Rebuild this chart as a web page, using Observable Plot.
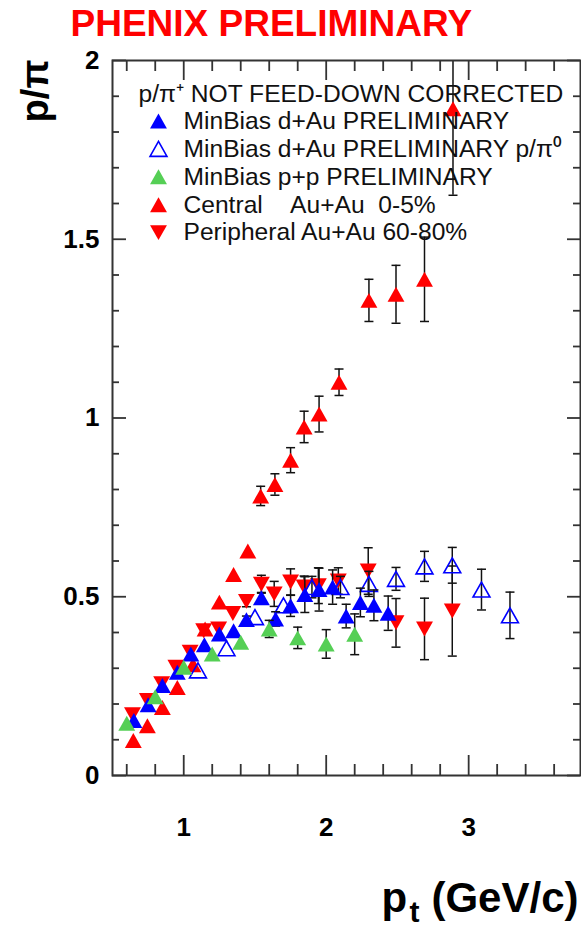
<!DOCTYPE html>
<html><head><meta charset="utf-8">
<script src="https://cdn.jsdelivr.net/npm/d3@7"></script>
<script src="https://cdn.jsdelivr.net/npm/@observablehq/plot@0.6"></script>
<style>html,body{margin:0;padding:0;background:#fff}#chart svg{display:block}</style>
</head><body><div id="chart"></div>
<script>
// ---------------- data ----------------
// Central Au+Au 0-5% (red, up triangles)
const ptCentral = [0.646,0.745,0.85,0.955,1.065,1.15,1.25,1.35,1.45,1.54,1.64,1.75,1.845,1.95,2.09,2.30,2.49,2.69,2.89];
const rCentral  = [0.098,0.139,0.19,0.246,0.31,0.41,0.485,0.562,0.628,0.782,0.814,0.882,0.975,1.011,1.10,1.329,1.346,1.388,1.865];
const eCentral  = [0,0,0,0,0,0,0,0,0,0.027,0.03,0.035,0.044,0.05,0.037,0.059,0.081,0.118,0.242];
// Peripheral Au+Au 60-80% (red, down triangles)
const ptPeriph = [0.64,0.745,0.845,0.945,1.045,1.14,1.245,1.345,1.44,1.545,1.635,1.75,1.845,1.945,2.085,2.295,2.49,2.69,2.885];
const rPeriph  = [0.17,0.21,0.257,0.303,0.345,0.405,0.41,0.453,0.487,0.535,0.508,0.541,0.527,0.531,0.544,0.572,0.427,0.41,0.46];
const ePeriph  = [0,0,0,0,0,0,0,0,0.015,0.025,0.035,0.037,0.031,0.05,0.037,0.065,0.068,0.086,0.126];
// MinBias d+Au p/pi+ (blue, filled up triangles)
const ptDAu = [0.65,0.75,0.85,0.955,1.05,1.145,1.25,1.35,1.44,1.545,1.645,1.75,1.85,1.95,2.045,2.14,2.24,2.335,2.435];
const rDAu  = [0.154,0.198,0.252,0.289,0.34,0.366,0.396,0.405,0.436,0.497,0.438,0.475,0.506,0.52,0.527,0.446,0.484,0.476,0.454];
const eDAu  = [0,0,0,0,0,0,0,0,0.01,0.015,0.02,0.03,0.05,0.06,0.048,0.033,0.04,0.043,0.048];
// MinBias d+Au p/pi0 (blue, open up triangles)
const ptDAu0 = [1.10,1.30,1.50,1.70,1.90,2.10,2.30,2.49,2.69,2.885,3.09,3.29];
const rDAu0  = [0.294,0.356,0.443,0.476,0.527,0.527,0.536,0.55,0.585,0.588,0.52,0.448];
const eDAu0  = [0,0,0,0,0.03,0.03,0.035,0.032,0.042,0.05,0.057,0.065];
// MinBias p+p (green, filled up triangles)
const ptPP = [0.6,0.8,1.0,1.2,1.4,1.6,1.8,2.0,2.2];
const rPP  = [0.146,0.22,0.303,0.34,0.373,0.41,0.385,0.368,0.395];
const ePP  = [0,0,0,0,0,0.024,0.03,0.04,0.057];

// axis ticks / labels
const xDomain = [0.5, 3.785];
const yDomain = [0, 2];
const xMajor = [1, 2, 3];
const xMinor = [0.6,0.8,1.2,1.4,1.6,1.8,2.2,2.4,2.6,2.8,3.2,3.4,3.6];
const yMajor = [0, 0.5, 1, 1.5, 2];
const yMinor = [0.1,0.2,0.3,0.4,0.6,0.7,0.8,0.9,1.1,1.2,1.3,1.4,1.6,1.7,1.8,1.9];
const xTickLabels = [1, 2, 3];
const yTickLabels = [0, 0.5, 1, 1.5, 2];

const titleText = "PHENIX PRELIMINARY";
const yTitle = "p/\u03C0";
const legendHeader = "p/\u03C0\u207A NOT FEED-DOWN CORRECTED";
const legendLabels = [
  "MinBias d+Au PRELIMINARY",
  "MinBias d+Au PRELIMINARY p/\u03C0\u2070",
  "MinBias p+p PRELIMINARY",
  "Central\u00A0\u00A0\u00A0\u00A0Au+Au\u00A0\u00A00-5%",
  "Peripheral Au+Au 60-80%"
];

// ---------------- layout / style ----------------
const W = 581, H = 928;
const M = {top: 60, right: 1, bottom: 153, left: 112};
const frameW = W - M.left - M.right;
const frameH = H - M.top - M.bottom;
const axisColor = "#333";
const RED = "#ff0000", BLUE = "#0000ff", GREEN = "#55cf55";
const legendFont = 24.6;

const triUp = {draw(c, size) { const r = Math.sqrt(size / Math.PI), hw = r * 1.3, hh = r * 1.15;
  c.moveTo(0, -hh); c.lineTo(hw, hh); c.lineTo(-hw, hh); c.closePath(); }};
const triDown = {draw(c, size) { const r = Math.sqrt(size / Math.PI), hw = r * 1.3, hh = r * 1.15;
  c.moveTo(0, hh); c.lineTo(hw, -hh); c.lineTo(-hw, -hh); c.closePath(); }};
const capSym = {draw(c, size) { const r = Math.sqrt(size / Math.PI); c.moveTo(-r, 0); c.lineTo(r, 0); }};

const rows = (pt, r, e) => pt.map((x, i) => ({x, y: r[i], e: e[i]}));
const series = [
  {key: "dAu",  data: rows(ptDAu, rDAu, eDAu),       symbol: triUp,   fill: BLUE,  stroke: "none"},
  {key: "dAu0", data: rows(ptDAu0, rDAu0, eDAu0),    symbol: triUp,   fill: "none", stroke: BLUE},
  {key: "pp",   data: rows(ptPP, rPP, ePP),          symbol: triUp,   fill: GREEN, stroke: "none"},
  {key: "cen",  data: rows(ptCentral, rCentral, eCentral), symbol: triUp, fill: RED, stroke: "none"},
  {key: "per",  data: rows(ptPeriph, rPeriph, ePeriph),   symbol: triDown, fill: RED, stroke: "none"}
];
const drawOrder = ["cen", "per", "dAu0", "dAu", "pp"];

function seriesMarks(s) {
  const withErr = s.data.filter(d => d.e > 0);
  const caps = [];
  for (const d of withErr) {
    caps.push({x: d.x, y: d.y - d.e});
    if (d.y + d.e <= yDomain[1]) caps.push({x: d.x, y: d.y + d.e});
  }
  return [
    Plot.ruleX(withErr, {x: "x", y1: d => d.y - d.e, y2: d => Math.min(d.y + d.e, yDomain[1]), stroke: "#111", strokeWidth: 1.5}),
    Plot.dot(caps, {x: "x", y: "y", symbol: capSym, r: 4.5, fill: "none", stroke: "#111", strokeWidth: 1.5}),
    Plot.dot(s.data, {x: "x", y: "y", symbol: s.symbol, r: 6.5, fill: s.fill, stroke: s.stroke, strokeWidth: 1.6})
  ];
}

function ticksX(vals, len) {
  return [
    Plot.ruleX(vals, {x: d => d, insetTop: frameH - len, stroke: axisColor, strokeWidth: 1.8}),
    Plot.ruleX(vals, {x: d => d, insetBottom: frameH - len, stroke: axisColor, strokeWidth: 1.8})
  ];
}
function ticksY(vals, lenL, lenR) {
  return [
    Plot.ruleY(vals, {y: d => d, insetRight: frameW - lenL, stroke: axisColor, strokeWidth: 1.8}),
    Plot.ruleY(vals, {y: d => d, insetLeft: frameW - lenR, stroke: axisColor, strokeWidth: 1.8})
  ];
}

const legendX0 = 158 - M.left, legendText0 = 183 - M.left;
const legendY0 = 120.5 - M.top, legendStep = 27.9;
const legendMarks = [];
legendMarks.push(Plot.text([legendHeader], {frameAnchor: "top-left", text: d => d, dx: 138 - M.left, dy: 94 - M.top,
  textAnchor: "start", lineAnchor: "middle", fontSize: legendFont, fill: "#111"}));
legendLabels.forEach((lab, i) => {
  const s = series[i];
  legendMarks.push(Plot.dot([lab], {frameAnchor: "top-left", dx: legendX0, dy: legendY0 + i * legendStep,
    symbol: s.symbol, r: 6.5, fill: s.fill, stroke: s.stroke, strokeWidth: 1.6}));
  legendMarks.push(Plot.text([lab], {frameAnchor: "top-left", text: d => d, dx: legendText0, dy: legendY0 + i * legendStep,
    textAnchor: "start", lineAnchor: "middle", fontSize: legendFont, fill: "#111"}));
});

const chart = Plot.plot({
  width: W, height: H,
  marginTop: M.top, marginRight: M.right, marginBottom: M.bottom, marginLeft: M.left,
  style: {fontFamily: "'Liberation Sans', Arial, Helvetica, sans-serif", background: "#fff", color: "#000"},
  x: {domain: xDomain},
  y: {domain: yDomain},
  marks: [
    ...drawOrder.flatMap(k => seriesMarks(series.find(s => s.key === k))),
    ...ticksX(xMajor, 20), ...ticksX(xMinor, 11),
    ...ticksY(yMajor, 14, 13), ...ticksY(yMinor, 7, 7),
    Plot.frame({stroke: axisColor, strokeWidth: 2}),
    Plot.axisX(xTickLabels, {anchor: "bottom", tickSize: 0, tickPadding: 42, fontSize: 26, fontWeight: "bold",
      tickFormat: d => String(d), label: null}),
    Plot.axisY(yTickLabels, {anchor: "left", tickSize: 0, tickPadding: 13, fontSize: 26, fontWeight: "bold",
      tickFormat: d => String(d), label: null}),
    ...legendMarks,
    Plot.text([titleText], {frameAnchor: "top-left", text: d => d, dx: 70 - M.left, dy: 35 - M.top,
      textAnchor: "start", lineAnchor: "bottom", fontSize: 37, fontWeight: "bold", fill: RED}),
    Plot.text([yTitle], {frameAnchor: "top-left", text: d => d, dx: 47 - M.left, dy: 59 - M.top, rotate: -90,
      textAnchor: "end", lineAnchor: "bottom", fontSize: 38, fontWeight: "bold", fill: "#000"}),
    Plot.text(["p"], {frameAnchor: "bottom-left", text: d => d, dx: 381 - M.left, dy: 911 - (H - M.bottom),
      textAnchor: "start", lineAnchor: "bottom", fontSize: 42, fontWeight: "bold", fill: "#000"}),
    Plot.text(["t"], {frameAnchor: "bottom-left", text: d => d, dx: 409 - M.left, dy: 921 - (H - M.bottom),
      textAnchor: "start", lineAnchor: "bottom", fontSize: 30, fontWeight: "bold", fill: "#000"}),
    Plot.text(["(GeV/c)"], {frameAnchor: "bottom-right", text: d => d, dx: 578 - (W - M.right), dy: 911 - (H - M.bottom),
      textAnchor: "end", lineAnchor: "bottom", fontSize: 42, fontWeight: "bold", fill: "#000"})
  ]
});
document.getElementById("chart").appendChild(chart);
</script>
</body></html>
